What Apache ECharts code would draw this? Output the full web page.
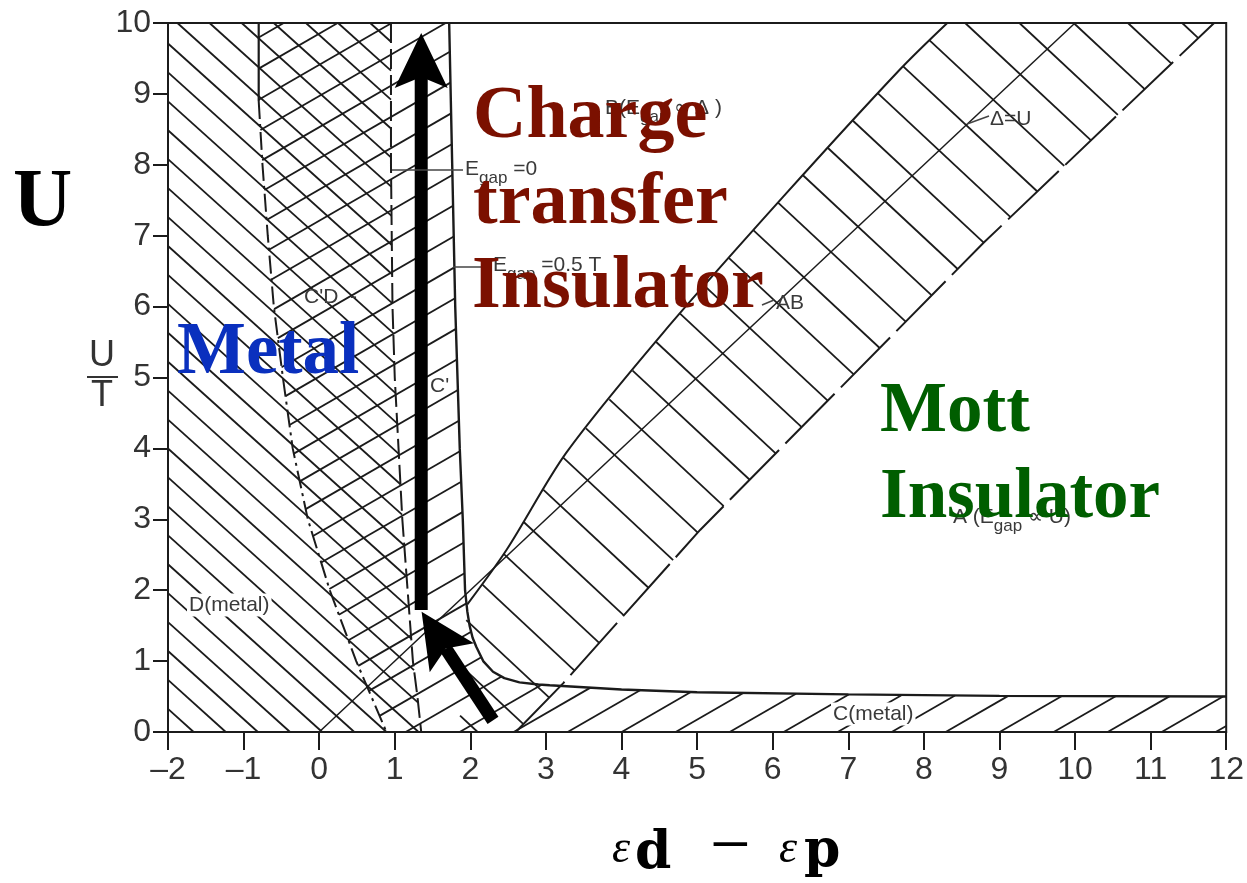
<!DOCTYPE html>
<html>
<head>
<meta charset="utf-8">
<title>Zaanen–Sawatzky–Allen phase diagram</title>
<script src="https://cdn.jsdelivr.net/npm/echarts@6/dist/echarts.min.js"></script>
<style>
  html, body { margin: 0; padding: 0; background: #ffffff; }
  #chart { width: 1247px; height: 883px; }
</style>
</head>
<body>
<div id="chart"></div>
<script>
// ---- Axis ticks ----
const xTicks = [-2, -1, 0, 1, 2, 3, 4, 5, 6, 7, 8, 9, 10, 11, 12];
const yTicks = [0, 1, 2, 3, 4, 5, 6, 7, 8, 9, 10];

// ---- Phase boundaries, points are [εd − εp, U/T] ----
// C'D boundary (solid at the top, dash-dot below)
const boundaryCD = [[-0.8, 10], [-0.8, 8.9], [-0.75, 8], [-0.68, 7], [-0.6, 6], [-0.48, 5],
                    [-0.35, 4], [-0.15, 3], [0.14, 2], [0.49, 1], [0.69, 0.5], [0.89, 0]];
// E_gap = 0 (dashed)
const gapZero = [[0.95, 10], [0.95, 8], [0.97, 6], [1.0, 5], [1.05, 4], [1.1, 3],
                 [1.17, 2], [1.24, 1], [1.3, 0.5], [1.35, 0]];
// E_gap = 0.5 T (solid), bends over into the C(metal) strip
const gapHalfT = [[1.72, 10], [1.76, 8], [1.8, 6], [1.86, 4], [1.9, 3], [1.93, 2], [1.96, 1.7],
                  [1.99, 1.5], [2.03, 1.33], [2.08, 1.2], [2.17, 1.0], [2.3, 0.85], [2.45, 0.76],
                  [2.65, 0.7], [2.9, 0.67], [3.05, 0.66], [4, 0.6], [5, 0.56], [7, 0.53],
                  [9, 0.51], [12, 0.5]];
// AB crossover band edges
const bandUpper = [[1.96, 1.8], [2.48, 2.57], [3.27, 3.94], [4.55, 5.63], [6.14, 7.55],
                   [7.68, 9.34], [8.31, 10]];
const bandLower = [[2.6, 0], [3.23, 0.69], [5.04, 2.85], [8.79, 6.9], [11.84, 10]];
// Δ = U line
const deltaEqualsU = [[0, 0], [10, 10]];

// ---- Arrows (tail → tip) ----
const arrowTail = [[1.35, 1.72], [2.30, 0.165]];
const arrowTip  = [[1.35, 9.86], [1.355, 1.695]];

// ---- Hatched regions built from the boundaries ----
const regionD = [[-2, 0], [-2, 10]].concat(gapZero);
const regionC = boundaryCD.concat([[12, 0]]).concat(gapHalfT.slice().reverse());
const regionAB = [[1.85, 0]].concat(bandUpper).concat(bandLower.slice().reverse());

const INK = '#1b1b1b';

// Parallel hatch lines (screen space) clipped to a polygon
function hatchSegments(pts, angleDeg, spacing, anchor) {
  const t = angleDeg * Math.PI / 180;
  const d = [Math.cos(t), Math.sin(t)];
  const n = [-d[1], d[0]];
  const sv = pts.map(p => p[0] * n[0] + p[1] * n[1]);
  const s0 = anchor[0] * n[0] + anchor[1] * n[1];
  const smin = Math.min.apply(null, sv), smax = Math.max.apply(null, sv);
  const k0 = Math.ceil((smin - s0) / spacing), k1 = Math.floor((smax - s0) / spacing);
  const segs = [];
  for (let k = k0; k <= k1; k++) {
    const s = s0 + k * spacing;
    const hits = [];
    for (let i = 0; i < pts.length; i++) {
      const j = (i + 1) % pts.length;
      const a = pts[i], b = pts[j], sa = sv[i], sb = sv[j];
      if ((sa <= s && sb > s) || (sb <= s && sa > s)) {
        const r = (s - sa) / (sb - sa);
        const x = a[0] + r * (b[0] - a[0]), y = a[1] + r * (b[1] - a[1]);
        hits.push({ x: x, y: y, u: x * d[0] + y * d[1] });
      }
    }
    hits.sort((p, q) => p.u - q.u);
    for (let m = 0; m + 1 < hits.length; m += 2) segs.push([hits[m], hits[m + 1]]);
  }
  return segs;
}

function hatchSeries(name, poly, angleDeg, spacing, anchor) {
  return {
    name: name, type: 'custom', coordinateSystem: 'cartesian2d', silent: true, z: 1,
    data: [[0, 0]],
    renderItem: function (params, api) {
      const pts = poly.map(p => api.coord(p));
      const segs = hatchSegments(pts, angleDeg, spacing, api.coord(anchor));
      return {
        type: 'group',
        children: segs.map(sg => ({
          type: 'line',
          shape: { x1: sg[0].x, y1: sg[0].y, x2: sg[1].x, y2: sg[1].y },
          style: { stroke: INK, lineWidth: 1.8 }
        }))
      };
    }
  };
}

function boundary(name, pts, width, type, smooth) {
  return {
    name: name, type: 'line', data: pts, showSymbol: false, symbol: 'none', silent: true, z: 3,
    smooth: smooth || false,
    lineStyle: { color: INK, width: width, type: type || 'solid', cap: 'butt' }
  };
}

const arrowSeries = {
  name: 'arrows', type: 'custom', coordinateSystem: 'cartesian2d', silent: true, z: 6,
  data: arrowTail.map((t, i) => [t[0], t[1], arrowTip[i][0], arrowTip[i][1]]),
  encode: { x: [0, 2], y: [1, 3] },
  renderItem: function (params, api) {
    const a = api.coord([api.value(0), api.value(1)]);
    const b = api.coord([api.value(2), api.value(3)]);
    const len = Math.hypot(b[0] - a[0], b[1] - a[1]);
    const u = [(b[0] - a[0]) / len, (b[1] - a[1]) / len];
    const v = [-u[1], u[0]];
    const L = 55, W = 53, notch = 11, hw = 6.5;
    const base = [b[0] - u[0] * L, b[1] - u[1] * L];
    const neck = [b[0] - u[0] * (L - notch), b[1] - u[1] * (L - notch)];
    return {
      type: 'group',
      children: [
        { type: 'polygon', shape: { points: [
            [a[0] + v[0] * hw, a[1] + v[1] * hw], [neck[0] + v[0] * hw, neck[1] + v[1] * hw],
            [neck[0] - v[0] * hw, neck[1] - v[1] * hw], [a[0] - v[0] * hw, a[1] - v[1] * hw]] },
          style: { fill: '#000' } },
        { type: 'polygon', shape: { points: [
            b, [base[0] + v[0] * W / 2, base[1] + v[1] * W / 2], neck,
            [base[0] - v[0] * W / 2, base[1] - v[1] * W / 2]] },
          style: { fill: '#000' } }
      ]
    };
  }
};

// ---- Text styles ----
const SMALL = '21px "Liberation Sans", Arial, sans-serif';
const SUB = '17px "Liberation Sans", Arial, sans-serif';
const GREY = '#3a3a3a';

function txt(x, y, text, font, fill, opts) {
  const o = opts || {};
  return { type: 'text', x: x, y: y, z: o.z || 100, silent: true,
    style: Object.assign({ text: text, font: font, fill: fill, align: o.align || 'left', verticalAlign: 'middle' }, o.style || {}) };
}
function gapLabel(x, y, pre, post) {
  return { type: 'text', x: x, y: y, z: 100, silent: true,
    style: { text: '{n|' + pre + '}{s|gap}{n|' + post + '}', align: 'left', verticalAlign: 'middle',
      rich: { n: { font: SMALL, fill: GREY, padding: [0, 0, 7, 0], verticalAlign: 'bottom' },
              s: { font: SUB, fill: GREY, verticalAlign: 'bottom' } } } };
}
function lead(x1, y1, x2, y2) {
  return { type: 'line', z: 100, silent: true, shape: { x1: x1, y1: y1, x2: x2, y2: y2 },
    style: { stroke: '#444', lineWidth: 1.5 } };
}

const BIG = 'bold 74px "Liberation Serif", "Times New Roman", serif';
const BIG_M = 'bold 73px "Liberation Serif", "Times New Roman", serif';
const BIG_MOTT = 'bold 71px "Liberation Serif", "Times New Roman", serif';
const AX_SANS = '36px "Liberation Sans", Arial, sans-serif';
const boxed = { backgroundColor: '#fff', padding: [1, 2, 1, 2] };

const graphics = [
  // region annotations of the original diagram
  gapLabel(605, 112, 'B(E', ' \u221D \u0394 )'),
  lead(392, 170, 463, 170), gapLabel(465, 173, 'E', ' =0'),
  lead(453, 267, 491, 267), gapLabel(493, 269, 'E', ' =0.5 T'),
  txt(304, 297, "C'D  -", SMALL, GREY),
  txt(430, 386, "C'", SMALL, GREY),
  txt(187, 605, 'D(metal)', SMALL, GREY, { style: boxed }),
  txt(831, 714, 'C(metal)', SMALL, GREY, { style: boxed }),
  lead(762, 305, 774, 300), txt(776, 303, 'AB', SMALL, GREY),
  lead(967, 124, 989, 116), txt(990, 119, '\u0394=U', SMALL, GREY),
  gapLabel(953, 521, 'A (E', ' \u221D U)'),
  // phase names
  txt(473, 118, 'Charge', BIG, '#7b1000', { z: 110 }),
  txt(473, 204, 'transfer', BIG, '#7b1000', { z: 110 }),
  txt(472, 288, 'Insulator', BIG, '#7b1000', { z: 110 }),
  txt(177, 354, 'Metal', BIG_M, '#0a30be', { z: 110 }),
  txt(880, 413, 'Mott', BIG_MOTT, '#005e00', { z: 110 }),
  txt(880, 499, 'Insulator', BIG_MOTT, '#005e00', { z: 110 }),
  // axis titles
  txt(13, 204, 'U', 'bold 82px "Liberation Serif", "Times New Roman", serif', '#000'),
  txt(102, 356, 'U', AX_SANS, '#333', { align: 'center' }),
  { type: 'line', z: 100, silent: true, shape: { x1: 87, y1: 377, x2: 118, y2: 377 }, style: { stroke: '#333', lineWidth: 2 } },
  txt(102, 396, 'T', AX_SANS, '#333', { align: 'center' }),
  txt(612, 850, '\u03B5', 'italic 46px "Liberation Serif", serif', '#000'),
  txt(635, 854, 'd', 'bold 52px "DejaVu Serif", serif', '#000'),
  txt(710, 849, '\u2212', '72px "Liberation Serif", serif', '#000'),
  txt(779, 850, '\u03B5', 'italic 46px "Liberation Serif", serif', '#000'),
  txt(804, 852, 'p', 'bold 52px "DejaVu Serif", serif', '#000')
];

const chart = echarts.init(document.getElementById('chart'), null, { renderer: 'canvas' });
chart.setOption({
  animation: false,
  backgroundColor: '#ffffff',
  grid: { left: 168, right: 20, top: 23, bottom: 151, show: true, borderColor: INK, borderWidth: 2 },
  xAxis: {
    type: 'value', min: xTicks[0], max: xTicks[xTicks.length - 1], interval: 1,
    axisLine: { onZero: false, lineStyle: { color: INK, width: 2 } },
    axisTick: { length: 18, lineStyle: { color: INK, width: 2 } },
    axisLabel: { margin: 22, fontSize: 32, color: '#333', fontFamily: '"Liberation Sans", Arial, sans-serif',
      formatter: v => String(v).replace('-', '\u2013') },
    splitLine: { show: false }
  },
  yAxis: {
    type: 'value', min: yTicks[0], max: yTicks[yTicks.length - 1], interval: 1,
    axisLine: { onZero: false, lineStyle: { color: INK, width: 2 } },
    axisTick: { length: 15, lineStyle: { color: INK, width: 2 } },
    axisLabel: { margin: 17, fontSize: 32, color: '#333', fontFamily: '"Liberation Sans", Arial, sans-serif' },
    splitLine: { show: false }
  },
  series: [
    hatchSeries('D (metal)', regionD, 42, 21.5, [0.04, 0]),
    hatchSeries("C / C'D", regionC, -30, 27, [5.61, 0.55]),
    hatchSeries('AB band', regionAB, 43, 37, [8.07, 9.76]),
    boundary("C'D top", boundaryCD.slice(0, 2), 2.2),
    boundary("C'D", boundaryCD.slice(1), 2, [18, 5, 3, 5]),
    boundary('E_gap = 0', gapZero, 2, [20, 6]),
    boundary('E_gap = 0.5T', gapHalfT, 2.4),
    boundary('AB upper', bandUpper, 2, 'solid', 0.3),
    boundary('AB lower', bandLower, 2, [70, 9]),
    boundary('Δ = U', deltaEqualsU, 1.5),
    arrowSeries
  ],
  graphic: graphics
});
</script>
</body>
</html>
